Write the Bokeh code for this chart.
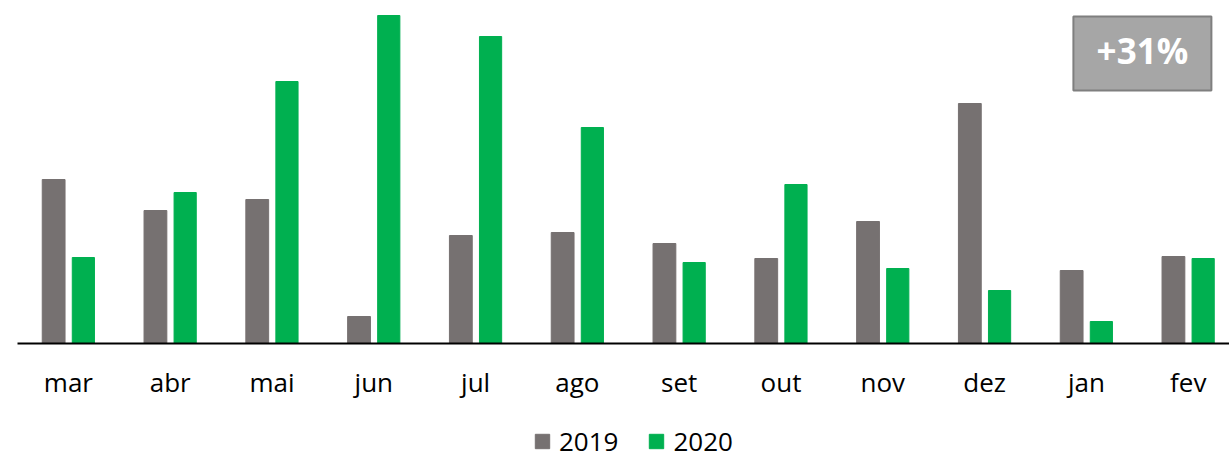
from bokeh.plotting import figure
from bokeh.layouts import column
from bokeh.models import (ColumnDataSource, Range1d, FixedTicker, Legend, LegendItem,
                          BoxAnnotation, Label)
from bokeh.transform import dodge
from bokeh.embed import file_html
from bokeh.resources import INLINE

months = ["mar", "abr", "mai", "jun", "jul", "ago", "set", "out", "nov", "dez", "jan", "fev"]
v2019 = [164, 133, 144, 27, 108, 111, 100, 85, 122, 240, 73, 87]
v2020 = [86, 151, 262, 328, 307, 216, 81, 159, 75, 53, 22, 85]
series = ["2019", "2020"]
growth_label = "+31%"

FONT = "Open Sans"
GRAY = "#767171"
GREEN = "#00B050"

pos = [i + 0.5 for i in range(len(months))]
src = ColumnDataSource(dict(x=pos, m=months, a=v2019, b=v2020))

p = figure(frame_width=1212, frame_height=335, output_backend="svg", toolbar_location=None,
           x_range=Range1d(0, 1212 / 101.8), y_range=Range1d(0, 335),
           y_axis_location=None, min_border_left=17, min_border_right=0,
           min_border_top=8, min_border_bottom=60)
p.outline_line_color = None
p.xgrid.visible = False
p.ygrid.visible = False

p.vbar(x=dodge("x", -0.145), top="a", width=0.224, source=src, color=GRAY)
p.vbar(x=dodge("x", 0.147), top="b", width=0.218, source=src, color=GREEN)

ax = p.xaxis[0]
ax.ticker = FixedTicker(ticks=pos)
ax.major_label_overrides = {x: m for x, m in zip(pos, months)}
ax.major_tick_line_color = None
ax.minor_tick_line_color = None
ax.axis_line_color = "black"
ax.axis_line_width = 2
ax.major_label_text_font = FONT
ax.major_label_text_font_size = "26px"
ax.major_label_text_color = "black"
ax.major_label_standoff = 14

box = BoxAnnotation(left=(1073 - 17.1) / 101.8, right=(1211 - 17.1) / 101.8,
                    top=343 - 16, bottom=343 - 90,
                    fill_color="#A6A6A6", fill_alpha=1,
                    line_color="#7F7F7F", line_alpha=1, line_width=2)
p.add_layout(box)
p.add_layout(Label(x=(1142 - 17.1) / 101.8, y=343 - 50, text=growth_label,
                   text_align="center", text_baseline="middle",
                   text_font=FONT, text_font_style="bold", text_font_size="35px",
                   text_color="white"))

# legend strip below the chart (its renderers are hidden; only the legend shows)
q = figure(width=1229, height=56, output_backend="svg", toolbar_location=None,
           x_range=Range1d(0, 1), y_range=Range1d(0, 1),
           x_axis_location=None, y_axis_location=None,
           min_border_left=0, min_border_right=0, min_border_top=0, min_border_bottom=0)
q.outline_line_color = None
q.xgrid.visible = False
q.ygrid.visible = False
k1 = q.vbar(x="x", top="a", width=0.2, source=src, color=GRAY, visible=False)
k2 = q.vbar(x="x", top="b", width=0.2, source=src, color=GREEN, visible=False)
legend = Legend(items=[LegendItem(label=series[0], renderers=[k1]),
                       LegendItem(label=series[1], renderers=[k2])],
                orientation="horizontal", location=(516, 0),
                label_text_font=FONT, label_text_font_size="26px", label_text_color="black",
                glyph_width=18, glyph_height=18, label_standoff=8, spacing=29,
                padding=0, margin=0, border_line_color=None, background_fill_alpha=0,
                inactive_fill_alpha=0)
q.add_layout(legend)

open("out.html", "w").write(file_html(column(p, q, spacing=0), INLINE))
